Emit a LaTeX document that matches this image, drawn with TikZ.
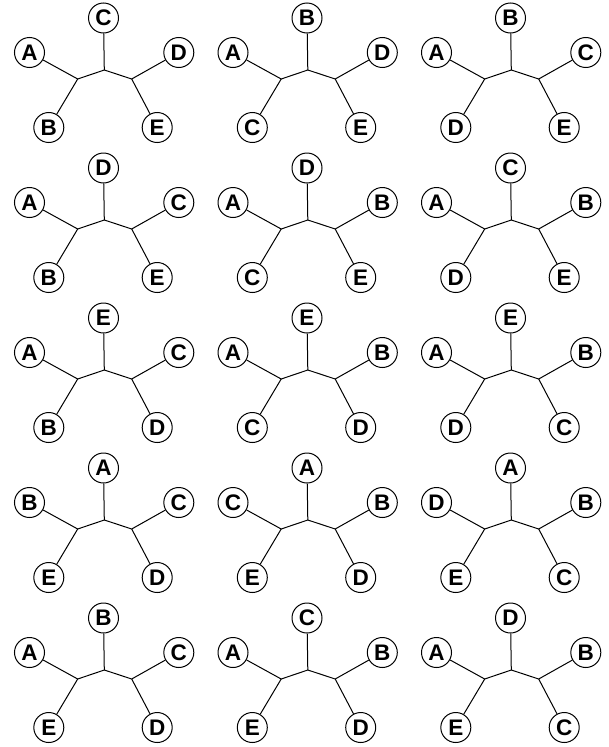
\documentclass[tikz,border=0pt]{standalone}
\usepackage{fontspec}
\setmainfont{Liberation Sans}
\begin{document}
\begin{tikzpicture}[x=1pt,y=-1pt,
  leaf/.style={draw,circle,line width=1pt,minimum size=30pt,inner sep=0pt,font=\fontsize{22.5}{22.5}\selectfont\bfseries},
  edge/.style={line width=1pt}]
\useasboundingbox (0,0) rectangle (608,747);
\newcommand\mytree[8]{%
  \begin{scope}[shift={(#1,#2)}]
    \node[leaf] (#8L) at (29.5,52.5) {#3};
    \node[leaf] (#8T) at (103.5,18) {#4};
    \node[leaf] (#8R) at (178.8,52.5) {#5};
    \node[leaf] (#8BL) at (48.8,127.5) {#6};
    \node[leaf] (#8BR) at (157.2,127.5) {#7};
    \coordinate (#8c) at (104.3,70);
    \coordinate (#8l) at (77.7,79);
    \coordinate (#8r) at (131.7,79);
    \draw[edge] (#8L) -- (#8l) -- (#8c) -- (#8r) -- (#8R);
    \draw[edge] (#8BL) -- (#8l);
    \draw[edge] (#8BR) -- (#8r);
    \draw[edge] (#8T) -- (#8c);
  \end{scope}}
\mytree{0}{0}{A}{C}{D}{B}{E}{a}
\mytree{203.5}{0}{A}{B}{D}{C}{E}{b}
\mytree{407}{0}{A}{B}{C}{D}{E}{c}
\mytree{0}{150}{A}{D}{C}{B}{E}{d}
\mytree{203.5}{150}{A}{D}{B}{C}{E}{e}
\mytree{407}{150}{A}{C}{B}{D}{E}{f}
\mytree{0}{300}{A}{E}{C}{B}{D}{g}
\mytree{203.5}{300}{A}{E}{B}{C}{D}{h}
\mytree{407}{300}{A}{E}{B}{D}{C}{i}
\mytree{0}{450}{B}{A}{C}{E}{D}{j}
\mytree{203.5}{450}{C}{A}{B}{E}{D}{k}
\mytree{407}{450}{D}{A}{B}{E}{C}{m}
\mytree{0}{600}{A}{B}{C}{E}{D}{n}
\mytree{203.5}{600}{A}{C}{B}{E}{D}{o}
\mytree{407}{600}{A}{D}{B}{E}{C}{p}
\end{tikzpicture}
\end{document}
